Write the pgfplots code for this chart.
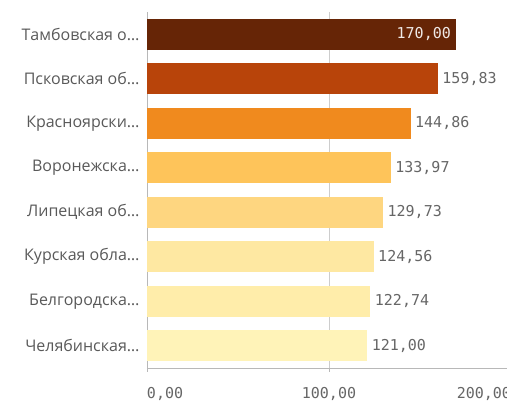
\documentclass[border=0pt]{standalone}
\usepackage{pgfplots}
\pgfplotsset{compat=1.18}
\usepackage{fontspec}
\setmainfont{Open Sans}
\newfontfamily\monofont{DejaVu Sans Mono}
\definecolor{c1}{HTML}{662506}
\definecolor{c2}{HTML}{B8440A}
\definecolor{c3}{HTML}{F08A1E}
\definecolor{c4}{HTML}{FEC45A}
\definecolor{c5}{HTML}{FED680}
\definecolor{c6}{HTML}{FEE8A2}
\definecolor{c7}{HTML}{FFEDAA}
\definecolor{c8}{HTML}{FFF3B8}
\definecolor{lbl}{HTML}{595959}
\definecolor{val}{HTML}{666666}
\definecolor{axl}{HTML}{B8B8B8}
\pgfplotsset{mybar/.style={xbar, bar width=31pt, bar shift=0pt, draw=none, nodes near coords}}
\begin{document}
\begin{tikzpicture}
\begin{axis}[
  at={(147pt,34pt)}, anchor=south west, scale only axis,
  width=364pt, height=356pt,
  xmin=0, xmax=200, ymin=-0.5, ymax=7.5,
  axis x line*=bottom, axis y line*=left,
  axis line style={draw=axl, -},
  xtick={0,100,200},
  xticklabels={{\makebox[0pt][l]{0,00}},{100,00},{\makebox[0pt][r]{200,00}}},
  x tick label style={font=\monofont\fontsize{15}{15}\selectfont, text=val, yshift=-12pt},
  x tick style={draw=axl}, tick align=outside, major tick length=4pt,
  ytick={0,...,7},
  yticklabels={Челябинская…, Белгородска…, Курская обла…, Липецкая об…, Воронежска…, Красноярски…, Псковская об…, Тамбовская о…},
  y tick label style={font=\fontsize{16}{16}\selectfont, text=lbl},
  y tick style={draw=none},
  xmajorgrids, grid style={draw=axl!70},
  /pgf/number format/fixed, /pgf/number format/fixed zerofill,
  /pgf/number format/precision=2, /pgf/number format/use comma,
  /pgf/number format/assume math mode=true,
  nodes near coords style={font=\monofont\fontsize{15}{15}\selectfont, text=val, anchor=west, xshift=1pt},
]
\addplot[mybar, fill=c1, nodes near coords style={anchor=east, xshift=-3pt, text=white!90!c1}] coordinates {(170.00,7)};
\addplot[mybar, fill=c2] coordinates {(159.83,6)};
\addplot[mybar, fill=c3] coordinates {(144.86,5)};
\addplot[mybar, fill=c4] coordinates {(133.97,4)};
\addplot[mybar, fill=c5] coordinates {(129.73,3)};
\addplot[mybar, fill=c6] coordinates {(124.56,2)};
\addplot[mybar, fill=c7] coordinates {(122.74,1)};
\addplot[mybar, fill=c8] coordinates {(121.00,0)};
\end{axis}
\pgfresetboundingbox
\path[use as bounding box] (0,0) rectangle (507pt,402pt);
\end{tikzpicture}
\end{document}
